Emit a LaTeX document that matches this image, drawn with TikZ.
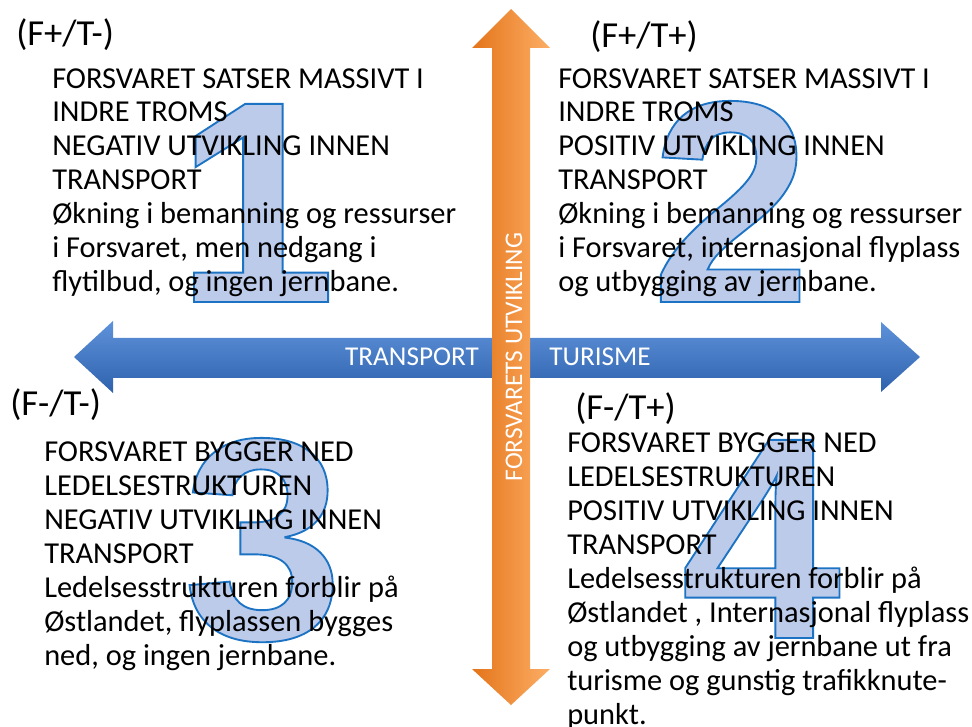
\documentclass[tikz,border=0pt]{standalone}
\usepackage{fontspec}
\setmainfont{Carlito}
\newfontfamily\numfont{Liberation Sans}
\usetikzlibrary{positioning}

\definecolor{numfill}{HTML}{BCCBEA}
\definecolor{bluetop}{HTML}{5E92DA}
\definecolor{bluebot}{HTML}{2F62AD}
\definecolor{orangeleft}{HTML}{E47419}
\definecolor{orangemid}{HTML}{F7953A}
\definecolor{orangeright}{HTML}{FCAE66}

% big digits: filled and stroked glyphs
\newcommand\outlinedigit[1]{\special{pdf:code q 2 Tr 1.4 w 0.11 0.45 0.77 RG}#1\special{pdf:code Q}}

\tikzset{
  bignum/.style={inner sep=0pt, anchor=base, text=numfill,
    font=\numfont\bfseries\fontsize{216}{216}\selectfont},
  body/.style={inner sep=0pt, anchor=base west, align=left,
    font=\fontsize{22.8}{25.5}\selectfont},
  quadlabel/.style={inner sep=0pt, anchor=base west,
    font=\fontsize{27.5}{27.5}\selectfont},
  axislabel/.style={inner sep=0pt, text=white,
    font=\fontsize{20.4}{20.4}\selectfont}
}

\begin{document}
\begin{tikzpicture}[x=0.75pt,y=-0.75pt]
    \useasboundingbox (0,0) rectangle (972,727);
    % numbers in the background
    \foreach \d/\x/\y in {1/256/302, 2/731/302, 3/263/639, 4/761/638}{
      \node[bignum] (num\d) at (\x,\y) {\outlinedigit{\d}};
    }
    % quadrant labels
    \foreach \n/\t/\x/\y in {fptm/{(F+/T-)}/16/46, fptp/{(F+/T+)}/590/48,
                            fmtm/{(F-/T-)}/10/416, fmtp/{(F-/T+)}/575/420}{
      \node[quadlabel] (lab\n) at (\x,\y) {\t};
    }
    % scenario texts (anchored at the baseline of the last line)
    \node[body] (scen1) at (52,292) {FORSVARET SATSER MASSIVT I\\INDRE TROMS\\
      NEGATIV UTVIKLING INNEN\\TRANSPORT\\Økning i bemanning og ressurser\\
      i Forsvaret, men nedgang i\\flytilbud, og ingen jernbane.};
    \node[body] (scen2) at (558,292) {FORSVARET SATSER MASSIVT I\\INDRE TROMS\\
      POSITIV UTVIKLING INNEN\\TRANSPORT\\Økning i bemanning og ressurser\\
      i Forsvaret, internasjonal flyplass\\og utbygging av jernbane.};
    \node[body] (scen3) at (44,665) {FORSVARET BYGGER NED\\LEDELSESTRUKTUREN\\
      NEGATIV UTVIKLING INNEN\\TRANSPORT\\Ledelsesstrukturen forblir på\\
      Østlandet, flyplassen bygges\\ned, og ingen jernbane.};
    \node[body] (scen4) at (567,724) {FORSVARET BYGGER NED\\LEDELSESTRUKTUREN\\
      POSITIV UTVIKLING INNEN\\TRANSPORT\\Ledelsesstrukturen forblir på\\
      Østlandet , Internasjonal flyplass\\og utbygging av jernbane ut fra\\
      turisme og gunstig trafikknute-\\punkt.};
    % horizontal axis
    \shade[top color=bluetop, bottom color=bluebot]
      (74,357) -- (113,321) -- (113,338) -- (881,338) -- (881,322) -- (920,357)
      -- (881,392) -- (881,378) -- (113,378) -- (113,393) -- cycle;
    % vertical axis
    \shade[left color=orangeleft, middle color=orangemid, right color=orangeright]
      (511,9) -- (550,48) -- (530,48) -- (530,669) -- (550,669) -- (511,705)
      -- (472,669) -- (492,669) -- (492,48) -- (472,48) -- cycle;
    \node[axislabel] (transport) at (412,357) {TRANSPORT};
    \node[axislabel] (turisme) at (600,357) {TURISME};
    \node[axislabel, font=\fontsize{19}{19}\selectfont, rotate=90]
      (forsvar) at (514,357) {FORSVARETS UTVIKLING};
\end{tikzpicture}
\end{document}
